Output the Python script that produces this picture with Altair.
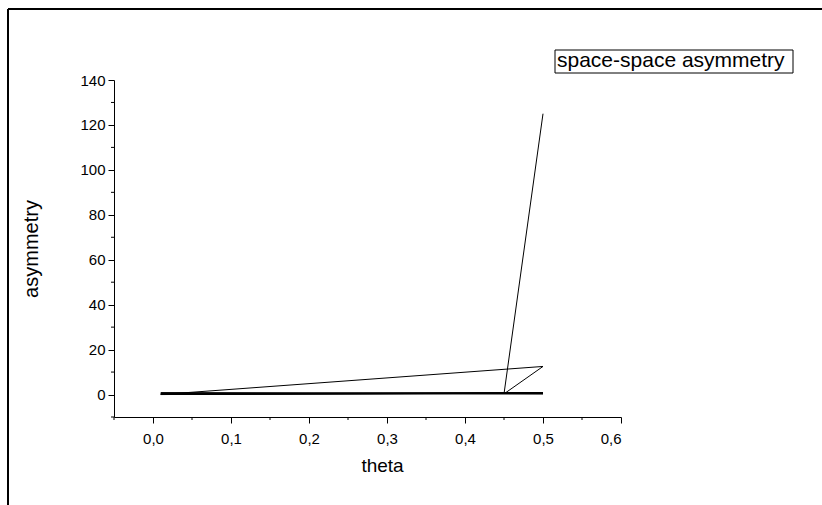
import altair as alt
import pandas as pd

# data: theta vs asymmetry, in drawing order
theta = [0.01, 0.5, 0.01, 0.5, 0.01, 0.5, 0.01, 0.5, 0.01, 0.5, 0.45, 0.5]
asym = [0.0, 0.6, 0.2, 0.9, 0.4, 0.3, 0.8, 0.5, 0.0, 12.5, 0.3, 125.0]

x_major = [0.0, 0.1, 0.2, 0.3, 0.4, 0.5, 0.6]
x_labels = ["0,0", "0,1", "0,2", "0,3", "0,4", "0,5", "0,6"]
x_minor = [-0.05, 0.05, 0.15, 0.25, 0.35, 0.45, 0.55]
y_major = [0, 20, 40, 60, 80, 100, 120, 140]
y_minor = [-10, 10, 30, 50, 70, 90, 110, 130]
legend_label = "space-space asymmetry"

df = pd.DataFrame({"theta": theta, "asym": asym, "i": list(range(len(theta)))})

FONT = "Liberation Sans"
W, H = 507, 337
PL, PT = 114, 80

label_expr = "replace(format(datum.value, '.1f'), '.', ',')"

xs = alt.Scale(domain=[-0.05, 0.6], nice=False, zero=False)
ys = alt.Scale(domain=[-10, 140], nice=False, zero=False)

x_axis = alt.Axis(values=x_major, labelExpr=label_expr, grid=False,
                  domainColor="black", tickColor="black", tickSize=6,
                  labelColor="black", labelFont=FONT, labelFontSize=15,
                  labelPadding=8, titleFont=FONT, titleFontSize=19,
                  titleFontWeight="normal", titleColor="black", titlePadding=10,
                  titleX=268)
y_axis = alt.Axis(values=y_major, grid=False, domainColor="black",
                  tickColor="black", tickSize=6, labelColor="black",
                  labelFont=FONT, labelFontSize=15, labelPadding=3,
                  titleFont=FONT, titleFontSize=20, titleFontWeight="normal",
                  titleColor="black", titlePadding=38)

line = alt.Chart(df).mark_line(color="black", strokeWidth=1).encode(
    x=alt.X("theta:Q", scale=xs, title="theta", axis=x_axis),
    y=alt.Y("asym:Q", scale=ys, title="asymmetry", axis=y_axis),
    order="i:O",
)

xminor = alt.Chart(pd.DataFrame({"v": x_minor})).mark_rule(color="black", strokeWidth=1).encode(
    x=alt.X("v:Q", scale=xs, title="theta", axis=x_axis),
    y=alt.value(H), y2=alt.value(H + 3),
)
yminor = alt.Chart(pd.DataFrame({"v": y_minor})).mark_rule(color="black", strokeWidth=1).encode(
    y=alt.Y("v:Q", scale=ys, title="asymmetry", axis=y_axis),
    x=alt.value(0), x2=alt.value(-3),
)

leg_box = alt.Chart(pd.DataFrame({"t": [legend_label]})).mark_rect(
    fill="white", stroke="black", strokeWidth=1).encode(
    x=alt.value(441), x2=alt.value(679), y=alt.value(-30), y2=alt.value(-7))
leg_text = alt.Chart(pd.DataFrame({"t": [legend_label]})).mark_text(
    font=FONT, fontSize=21, align="left", baseline="middle", color="black").encode(
    x=alt.value(443), y=alt.value(-19), text="t:N")

frame_top = alt.Chart(pd.DataFrame({"a": [0]})).mark_rule(color="black", strokeWidth=2).encode(
    x=alt.value(-106), x2=alt.value(720), y=alt.value(-71))
frame_left = alt.Chart(pd.DataFrame({"a": [0]})).mark_rule(color="black", strokeWidth=2).encode(
    x=alt.value(-106), y=alt.value(-71), y2=alt.value(440))

chart = alt.layer(frame_top, frame_left, xminor, yminor, line, leg_box, leg_text).properties(
    width=W, height=H,
    background="white",
    autosize=alt.AutoSizeParams(type="none"),
    padding={"left": PL, "top": PT, "right": 822 - PL - W, "bottom": 505 - PT - H},
).configure_view(strokeWidth=0).configure_axis(grid=False)

chart.save("out.html", embed_options={"renderer": "svg", "actions": False})
